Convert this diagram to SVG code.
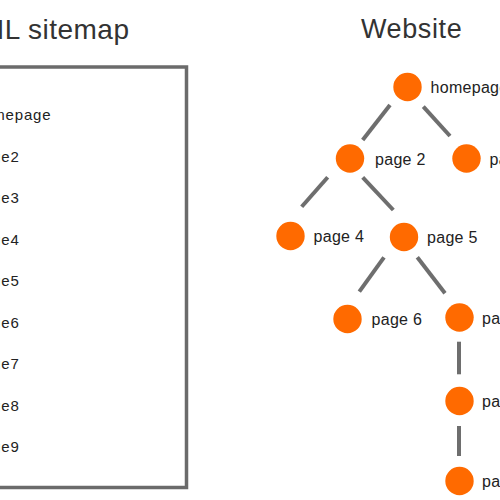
<svg xmlns="http://www.w3.org/2000/svg" width="500" height="500" viewBox="0 0 500 500">
<style>
.title{font-family:"Liberation Sans",Arial,sans-serif;fill:#333}
.item{font-family:"Liberation Sans",Arial,sans-serif;font-size:15px;fill:#222;text-anchor:end;letter-spacing:0.8px}
.lbl{font-family:"Liberation Sans",Arial,sans-serif;font-size:16px;fill:#222;letter-spacing:0.3px}
.node{fill:#ff6a00}
.edge{stroke:#6e6e6e;stroke-width:4;fill:none}
.box{fill:#fff;stroke:#6b6b6b;stroke-width:3.5}
</style>
<rect width="500" height="500" fill="#fff"/>
<text class="title" x="129.5" y="39" text-anchor="end" font-size="28" letter-spacing="0.5">XML sitemap</text>
<text class="title" x="361" y="38" font-size="27" letter-spacing="0.6">Website</text>
<g id="sitemap">
<rect class="box" x="-20" y="67" width="206.5" height="420.5"/>
<text class="item" x="51.3" y="120">homepage</text>
<text class="item" x="19.6" y="161.5">page2</text>
<text class="item" x="19.6" y="203">page3</text>
<text class="item" x="19.6" y="244.5">page4</text>
<text class="item" x="19.6" y="286">page5</text>
<text class="item" x="19.6" y="327.5">page6</text>
<text class="item" x="19.6" y="369">page7</text>
<text class="item" x="19.6" y="410.5">page8</text>
<text class="item" x="19.6" y="452">page9</text>
</g>
<g id="connectors">
<line class="edge" x1="390" y1="105" x2="362.7" y2="140"/>
<line class="edge" x1="423.3" y1="106.7" x2="450" y2="136"/>
<line class="edge" x1="327.7" y1="177.3" x2="301.7" y2="206.7"/>
<line class="edge" x1="362.7" y1="177.3" x2="393.3" y2="210"/>
<line class="edge" x1="384" y1="257.3" x2="359.3" y2="291.7"/>
<line class="edge" x1="417.3" y1="257.3" x2="445" y2="293.3"/>
<line class="edge" x1="459" y1="341.7" x2="459" y2="374.3"/>
<line class="edge" x1="459" y1="426" x2="459" y2="456"/>
</g>
<g id="homepage"><circle class="node" cx="407.5" cy="87" r="14.2"/><text class="lbl" x="430.5" y="93">homepage</text></g>
<g id="page2"><circle class="node" cx="350" cy="158.5" r="14.2"/><text class="lbl" x="375" y="165">page 2</text></g>
<g id="page3"><circle class="node" cx="466.5" cy="158.5" r="14.2"/><text class="lbl" x="489.5" y="165">page 3</text></g>
<g id="page4"><circle class="node" cx="290.5" cy="236" r="14.2"/><text class="lbl" x="313.5" y="242">page 4</text></g>
<g id="page5"><circle class="node" cx="404" cy="237" r="14.2"/><text class="lbl" x="427" y="243">page 5</text></g>
<g id="page6"><circle class="node" cx="347.5" cy="319" r="14.2"/><text class="lbl" x="371.5" y="325">page 6</text></g>
<g id="page7"><circle class="node" cx="459.5" cy="317.5" r="14.2"/><text class="lbl" x="482" y="323.5">page 7</text></g>
<g id="page8"><circle class="node" cx="459.5" cy="401" r="14.2"/><text class="lbl" x="482" y="407">page 8</text></g>
<g id="page9"><circle class="node" cx="459.5" cy="481" r="14.2"/><text class="lbl" x="482" y="487">page 9</text></g>
</svg>
